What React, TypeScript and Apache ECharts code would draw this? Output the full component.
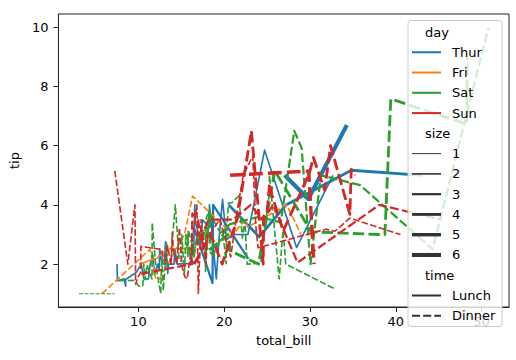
import React, { useEffect, useRef } from "react";
import * as echarts from "echarts";

// [total_bill, tip, size] rows, split by day and time
const thurLunch = [
  [27.2, 4.0, 4], [22.76, 3.0, 2], [17.29, 2.71, 2], [19.44, 3.0, 2], [16.66, 3.4, 2], [10.07, 1.83, 1],
  [32.68, 5.0, 2], [15.98, 2.03, 2], [34.83, 5.17, 4], [13.03, 2.0, 2], [18.28, 4.0, 2], [24.71, 5.85, 2],
  [21.16, 3.0, 2], [10.65, 1.5, 2], [12.43, 1.8, 2], [24.08, 2.92, 4], [11.69, 2.31, 2], [13.42, 1.68, 2],
  [14.26, 2.5, 2], [15.95, 2.0, 2], [12.48, 2.52, 2], [29.8, 4.2, 6], [8.52, 1.48, 2], [14.52, 2.0, 2],
  [11.38, 2.0, 2], [22.82, 2.18, 3], [19.08, 1.5, 2], [20.27, 2.83, 2], [11.17, 1.5, 2], [12.26, 2.0, 2],
  [18.26, 3.25, 2], [8.51, 1.25, 2], [10.33, 2.0, 2], [14.15, 2.0, 2], [16.0, 2.0, 2], [13.16, 2.75, 2],
  [17.47, 3.5, 2], [34.3, 6.7, 6], [41.19, 5.0, 5], [27.05, 5.0, 6], [16.43, 2.3, 2], [8.35, 1.5, 2],
  [18.64, 1.36, 3], [11.87, 1.63, 2], [9.78, 1.73, 2], [7.51, 2.0, 2], [19.81, 4.19, 2], [28.44, 2.56, 2],
  [15.48, 2.02, 2], [16.58, 4.0, 2], [7.56, 1.44, 2], [10.34, 2.0, 2], [43.11, 5.0, 4], [13.0, 2.0, 2],
  [13.51, 2.0, 2], [18.71, 4.0, 3], [12.74, 2.01, 2], [13.0, 2.0, 2], [16.4, 2.5, 2], [20.53, 4.0, 4],
  [16.47, 3.23, 3],
];
const thurDinner = [[18.78, 3.0, 2]];
const friLunch = [
  [12.16, 2.2, 2], [13.42, 3.48, 2], [8.58, 1.92, 1], [15.98, 3.0, 3], [13.42, 1.58, 2], [16.27, 2.5, 2],
  [10.09, 2.0, 2],
];
const friDinner = [
  [28.97, 3.0, 2], [22.49, 3.5, 2], [5.75, 1.0, 2], [16.32, 4.3, 2], [22.75, 3.25, 2], [40.17, 4.73, 4],
  [27.28, 4.0, 2], [12.03, 1.5, 2], [21.01, 3.0, 2], [12.46, 1.5, 2], [11.35, 2.5, 2], [15.38, 3.0, 2],
];
const satLunch: number[][] = [];
const satDinner = [
  [20.65, 3.35, 3], [17.92, 4.08, 2], [20.29, 2.75, 2], [15.77, 2.23, 2], [39.42, 7.58, 4], [19.82, 3.18, 2],
  [17.81, 2.34, 4], [13.37, 2.0, 2], [12.69, 2.0, 2], [21.7, 4.3, 2], [19.65, 3.0, 2], [9.55, 1.45, 2],
  [18.35, 2.5, 4], [15.06, 3.0, 2], [20.69, 2.45, 4], [17.78, 3.27, 2], [24.06, 3.6, 3], [16.31, 2.0, 3],
  [16.93, 3.07, 3], [18.69, 2.31, 3], [31.27, 5.0, 3], [16.04, 2.24, 3], [38.01, 3.0, 4], [26.41, 1.5, 2],
  [11.24, 1.76, 2], [48.27, 6.73, 4], [20.29, 3.21, 2], [13.81, 2.0, 2], [11.02, 1.98, 2], [18.29, 3.76, 4],
  [17.59, 2.64, 3], [20.08, 3.15, 3], [16.45, 2.47, 2], [3.07, 1.0, 1], [20.23, 2.01, 2], [15.01, 2.09, 2],
  [12.02, 1.97, 2], [17.07, 3.0, 3], [26.86, 3.14, 2], [25.28, 5.0, 2], [14.73, 2.2, 2], [10.51, 1.25, 2],
  [17.92, 3.08, 2], [44.3, 2.5, 3], [22.42, 3.48, 2], [20.92, 4.08, 2], [15.36, 1.64, 2], [20.49, 4.06, 2],
  [25.21, 4.29, 2], [18.24, 3.76, 2], [14.31, 4.0, 2], [14.0, 3.0, 2], [7.25, 1.0, 1], [10.59, 1.61, 2],
  [10.63, 2.0, 2], [50.81, 10.0, 3], [15.81, 3.16, 2], [26.59, 3.41, 3], [38.73, 3.0, 4], [24.27, 2.03, 2],
  [12.76, 2.23, 2], [30.06, 2.0, 3], [25.89, 5.16, 4], [48.33, 9.0, 4], [13.27, 2.5, 2], [28.17, 6.5, 3],
  [12.9, 1.1, 2], [28.15, 3.0, 5], [11.59, 1.5, 2], [7.74, 1.44, 2], [30.14, 3.09, 4], [20.45, 3.0, 4],
  [13.28, 2.72, 2], [22.12, 2.88, 2], [24.01, 2.0, 4], [15.69, 3.0, 3], [11.61, 3.39, 2], [10.77, 1.47, 2],
  [15.53, 3.0, 2], [10.07, 1.25, 2], [12.6, 1.0, 2], [32.83, 1.17, 2], [35.83, 4.67, 3], [29.03, 5.92, 3],
  [27.18, 2.0, 2], [22.67, 2.0, 2], [17.82, 1.75, 2],
];
const sunLunch: number[][] = [];
const sunDinner = [
  [16.99, 1.01, 2], [10.34, 1.66, 3], [21.01, 3.5, 3], [23.68, 3.31, 2], [24.59, 3.61, 4], [25.29, 4.71, 4],
  [8.77, 2.0, 2], [26.88, 3.12, 4], [15.04, 1.96, 2], [14.78, 3.23, 2], [10.27, 1.71, 2], [35.26, 5.0, 4],
  [15.42, 1.57, 2], [18.43, 3.0, 4], [14.83, 3.02, 2], [21.58, 3.92, 2], [10.33, 1.67, 3], [16.29, 3.71, 3],
  [16.97, 3.5, 3], [17.46, 2.54, 2], [13.94, 3.06, 2], [9.68, 1.32, 2], [30.4, 5.6, 4], [18.29, 3.0, 2],
  [22.23, 5.0, 2], [32.4, 6.0, 4], [28.55, 2.05, 3], [18.04, 3.0, 2], [12.54, 2.5, 2], [10.29, 2.6, 2],
  [34.81, 5.2, 4], [9.94, 1.56, 2], [25.56, 4.34, 4], [19.49, 3.51, 2], [38.07, 4.0, 3], [23.95, 2.55, 2],
  [25.71, 4.0, 3], [17.31, 3.5, 2], [29.93, 5.07, 4], [14.07, 2.5, 2], [13.13, 2.0, 2], [17.26, 2.74, 3],
  [24.55, 2.0, 4], [19.77, 2.0, 4], [29.85, 5.14, 5], [48.17, 5.0, 6], [25.0, 3.75, 4], [13.39, 2.61, 2],
  [16.49, 2.0, 4], [21.5, 3.5, 4], [12.66, 2.5, 2], [16.21, 2.0, 3], [13.81, 2.0, 2], [17.51, 3.0, 2],
  [24.52, 3.48, 3], [20.76, 2.24, 2], [31.71, 4.5, 4], [7.25, 5.15, 2], [31.85, 3.18, 2], [16.82, 4.0, 2],
  [32.9, 3.11, 2], [17.89, 2.0, 2], [14.48, 2.0, 2], [9.6, 4.0, 2], [34.63, 3.55, 2], [34.65, 3.68, 4],
  [23.33, 5.65, 2], [45.35, 3.5, 3], [23.17, 6.5, 4], [40.55, 3.0, 2], [20.69, 5.0, 5], [20.9, 3.5, 3],
  [30.46, 2.0, 5], [18.15, 3.5, 3], [23.1, 4.0, 3], [15.69, 1.5, 2],
];

const days = ["Thur", "Fri", "Sat", "Sun"];
const dayColors = ["#1f77b4", "#ff7f0e", "#2ca02c", "#d62728"];
const sizeLevels = [1, 2, 3, 4, 5, 6];
const times = ["Lunch", "Dinner"];
const xTicks = [10, 20, 30, 40, 50];
const yTicks = [2, 4, 6, 8, 10];

const rowsByDay: Record<string, Record<string, number[][]>> = {
  Thur: { Lunch: thurLunch, Dinner: thurDinner },
  Fri: { Lunch: friLunch, Dinner: friDinner },
  Sat: { Lunch: satLunch, Dinner: satDinner },
  Sun: { Lunch: sunLunch, Dinner: sunDinner },
};

const FONT = "DejaVu Sans";
const PX = 1.35; // points -> pixels in this picture
const sizeWidth = (s: number) => {
  const lo = 0.75, hi = 3.0;
  const t = (s - sizeLevels[0]) / (sizeLevels[sizeLevels.length - 1] - sizeLevels[0]);
  return PX * (lo + t * (hi - lo));
};
const dashFor = (w: number) => [4 * w, 1.5 * w];

function aggregate(rows: number[][]) {
  const m = new Map<number, [number, number]>();
  rows.forEach((r) => {
    const e = m.get(r[0]) || [0, 0];
    e[0] += r[1];
    e[1] += 1;
    m.set(r[0], e);
  });
  return Array.from(m.entries())
    .map(([x, e]) => [x, e[0] / e[1]])
    .sort((a, b) => a[0] - b[0]);
}

export default function App() {
  const ref = useRef<HTMLDivElement>(null);
  useEffect(() => {
    if (!ref.current) return;
    const chart = echarts.init(ref.current, null, { renderer: "svg" });

    const allRows = days.flatMap((d) => times.flatMap((t) => rowsByDay[d][t]));
    const xs = allRows.map((r) => r[0]);
    const ys = allRows.map((r) => r[1]);
    const xMin = Math.min(...xs), xMax = Math.max(...xs);
    const yMin = Math.min(...ys), yMax = Math.max(...ys);
    const xm = (xMax - xMin) * 0.05, ym = (yMax - yMin) * 0.05;

    const series: any[] = [];
    days.forEach((d, di) => {
      sizeLevels.forEach((s) => {
        times.forEach((t) => {
          const rows = rowsByDay[d][t].filter((r) => r[2] === s);
          if (rows.length === 0) return;
          const pts = aggregate(rows);
          const w = sizeWidth(s);
          series.push({
            type: "line",
            name: `${d}-${s}-${t}`,
            data: pts,
            showSymbol: false,
            symbol: "none",
            silent: true,
            animation: false,
            z: 2,
            emphasis: { disabled: true },
            lineStyle: {
              color: dayColors[di],
              width: w,
              type: t === "Dinner" ? dashFor(w) : "solid",
              cap: "butt",
              join: "round",
            },
          });
        });
      });
    });

    // legend (seaborn-style) drawn with graphic elements
    const lx = 408, ly = 20.5, lw = 94, lh = 306;
    const rowY0 = 32, rowStep = 20.27;
    const ZL = 200;
    const entries: any[] = [];
    entries.push({ title: "day" });
    days.forEach((d, i) => entries.push({ label: d, color: dayColors[i], width: 1.5 * PX, dash: null }));
    entries.push({ title: "size" });
    sizeLevels.forEach((s) => entries.push({ label: String(s), color: "#333333", width: sizeWidth(s), dash: null }));
    entries.push({ title: "time" });
    times.forEach((t) =>
      entries.push({ label: t, color: "#333333", width: 1.5 * PX, dash: t === "Dinner" ? dashFor(1.5 * PX) : null })
    );
    const legendEls: any[] = [
      {
        type: "rect",
        z: ZL,
        silent: true,
        shape: { x: lx, y: ly, width: lw, height: lh, r: 3 },
        style: { fill: "rgba(255,255,255,0.8)", stroke: "#cccccc", lineWidth: 1 },
      },
    ];
    const textStyle = (text: string) => ({
      text, fill: "#000", fontSize: 13, fontFamily: FONT,
      align: "left", verticalAlign: "middle", textAlign: "left", textVerticalAlign: "middle",
    });
    entries.forEach((e, i) => {
      const yc = rowY0 + i * rowStep;
      if (e.title) {
        legendEls.push({ type: "text", z: ZL + 1, silent: true, x: 425, y: yc, style: textStyle(e.title) });
      } else {
        legendEls.push({
          type: "line",
          z: ZL + 1,
          silent: true,
          shape: { x1: 412, y1: yc, x2: 441, y2: yc },
          style: { stroke: e.color, lineWidth: e.width, lineDash: e.dash || undefined },
        });
        legendEls.push({ type: "text", z: ZL + 1, silent: true, x: 452, y: yc, style: textStyle(e.label) });
      }
    });

    const axisText = { color: "#000", fontSize: 13, fontFamily: FONT };

    chart.setOption({
      animation: false,
      backgroundColor: "#ffffff",
      grid: {
        left: 57, right: 7, top: 14, bottom: 53,
        show: true, borderColor: "#222", borderWidth: 1, backgroundColor: "transparent",
      },
      xAxis: {
        type: "value",
        min: xMin - xm,
        max: xMax + xm,
        splitLine: { show: false },
        axisLine: { show: true, onZero: false, lineStyle: { color: "#222", width: 1 } },
        axisTick: { show: true, inside: false, length: 5, lineStyle: { color: "#222" }, customValues: xTicks },
        axisLabel: { ...axisText, margin: 8, customValues: xTicks },
        name: "total_bill",
        nameLocation: "middle",
        nameGap: 27,
        nameTextStyle: axisText,
      },
      yAxis: {
        type: "value",
        min: yMin - ym,
        max: yMax + ym,
        splitLine: { show: false },
        axisLine: { show: true, onZero: false, lineStyle: { color: "#222", width: 1 } },
        axisTick: { show: true, inside: false, length: 5, lineStyle: { color: "#222" }, customValues: yTicks },
        axisLabel: { ...axisText, margin: 10, customValues: yTicks },
        name: "tip",
        nameLocation: "middle",
        nameGap: 35,
        nameTextStyle: axisText,
      },
      series,
      graphic: { elements: legendEls },
    });
    return () => chart.dispose();
  }, []);
  return (
    <div
      ref={ref}
      style={{ position: "absolute", left: 0, top: 0, width: 516, height: 360, background: "#fff" }}
    />
  );
}
